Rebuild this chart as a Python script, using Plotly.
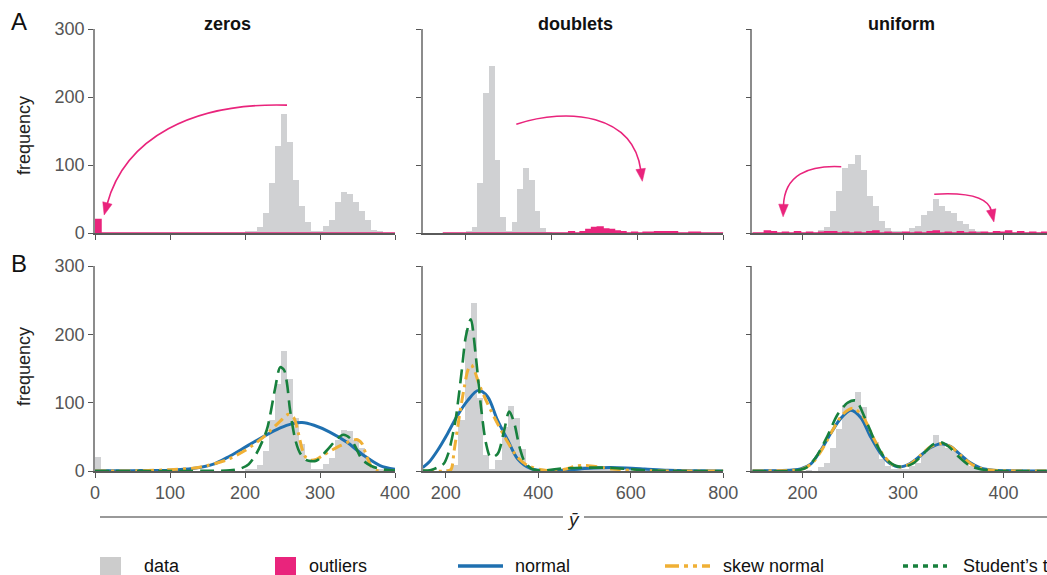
import math
import plotly.graph_objects as go

W, H = 1047, 575
FONT = "Liberation Sans, Arial, Helvetica, sans-serif"
GRAY = "#d0d1d3"
PINK = "#e9247c"
BLUE = "#1f70b0"
ORANGE = "#f0b035"
GREEN = "#17803d"
TICKC = "#555555"
FS = 18

# ---------------- data ----------------
panel_titles = ["zeros", "doublets", "uniform"]
legend_labels = ["data", "outliers", "normal", "skew normal", "Student\u2019s t"]

# zeros: 50 bins of width 8 starting at 0
zeros_bin_start, zeros_bin_width = 0.0, 8.0
zeros_data = [0, 0, 0, 0, 0, 0, 0, 0, 0, 0, 0, 0, 0, 0, 0, 0, 0, 0, 0, 0, 0, 0, 0, 0, 0,
              2, 2, 9, 29, 74, 128, 175, 134, 78, 40, 16, 3, 3, 10, 19, 46, 60, 58, 45, 33,
              19, 5, 2, 0, 0]
zeros_outliers = [20, 0, 0, 0, 0, 0, 0, 0, 0, 0, 0, 0, 0, 0, 0, 0, 0, 0, 0, 0, 0, 0, 0, 0, 0,
                  0, 0, 0, 0, 0, 0, 0, 0, 0, 0, 0, 0, 0, 0, 0, 0, 0, 0, 0, 0, 0, 0, 0, 0, 0]

# doublets: 49 bins of width 13.333 starting at 146.667
dbl_bin_start, dbl_bin_width = 146.667, 13.333
dbl_data = [0, 0, 0, 0, 3, 9, 74, 206, 246, 107, 24, 2, 16, 64, 95, 78, 32, 7, 1, 0,
            0, 0, 0, 0, 0, 0, 0, 0, 0, 0, 0, 0, 0, 0, 0, 0, 0, 0, 0, 0,
            0, 0, 0, 0, 0, 0, 0, 0, 0]
dbl_outliers = [0, 0, 0, 0, 0, 0, 0, 0, 0, 0, 0, 0, 0, 0, 0, 0, 0, 0, 0, 0,
                0, 0, 2, 0, 2, 5, 8, 9, 6, 5, 3, 2, 0, 1, 0, 1, 1, 2, 2, 2,
                2, 0, 0, 1, 1, 0, 0, 0, 0]

# uniform: 50 bins of width 6 starting at 150
uni_bin_start, uni_bin_width = 150.0, 6.0
uni_data = [0, 0, 0, 0, 0, 0, 0, 0, 0, 0, 0, 5, 9, 32, 62, 95, 102, 114, 93, 54,
            39, 17, 7, 3, 2, 1, 8, 10, 26, 32, 50, 40, 32, 30, 18, 13, 6, 3, 0, 0,
            0, 0, 0, 0, 0, 0, 0, 0, 0, 0]
uni_outliers = [0, 0, 3, 2, 0, 1, 0, 2, 0, 1, 0, 1, 2, 2, 0, 1, 0, 1, 0, 2,
                3, 0, 1, 0, 0, 1, 0, 1, 0, 2, 3, 0, 1, 0, 2, 0, 1, 0, 1, 0,
                2, 1, 3, 0, 2, 0, 1, 0, 1, 0]

# fitted densities
zeros_normal_x = [0, 50, 100, 130, 158, 180, 202, 224, 247, 262, 276, 292, 313, 336, 358, 380, 400]
zeros_normal_y = [0.3, 0.5, 1.2, 3.5, 10, 22, 36, 50, 63, 69, 71, 67, 57, 42, 23, 8, 2.5]
zeros_skew_x = [0, 60, 100, 130, 150, 175, 200, 225, 247, 258, 265, 271, 276, 281, 287, 295,
                304, 327, 349, 356, 362, 369, 376, 385, 400]
zeros_skew_y = [0, 0.3, 2, 4, 8, 16, 30, 50, 73, 83, 78, 56, 33, 20, 16, 17,
                23, 37, 46, 40, 22, 6, 1, 0, 0]
zeros_t_x = [0, 150, 180, 195, 205, 215, 229, 240, 247, 252, 256, 260, 267, 273, 282, 295,
             309, 322, 331, 340, 347, 356, 369, 385, 400]
zeros_t_y = [0, 0.2, 1, 4, 10, 25, 60, 120, 152, 148, 128, 90, 46, 27, 16, 15,
             30, 46, 53, 48, 36, 17, 7, 2, 0.5]

dbl_normal_x = [150, 165, 182, 204, 225, 247, 270, 290, 312, 334, 355, 384, 420, 450, 490,
                520, 555, 590, 630, 680, 740, 800]
dbl_normal_y = [5, 14, 30, 55, 81, 103, 118, 109, 74, 45, 18, 3.4, 0.5, 1, 3,
                4.5, 5, 4.5, 3, 1, 0.3, 0.1]
dbl_skew_x = [150, 200, 211, 218, 229, 240, 248, 255, 263, 272, 290, 312, 334, 355, 377, 406,
              434, 460, 480, 495, 505, 530, 560, 600, 650, 700, 800]
dbl_skew_y = [0, 0, 2, 30, 79, 123, 148, 155, 145, 127, 99, 69, 42, 20, 8, 2,
              0.3, 3, 7, 8, 8, 6, 3, 1, 0.3, 0, 0]
dbl_t_x = [150, 168, 185, 196, 205, 214, 222, 235, 243, 254, 265, 276, 287, 297, 312, 326,
           337, 348, 359, 370, 384, 406, 440, 480, 520, 560, 600, 650, 800]
dbl_t_y = [0.5, 1.5, 6, 11, 25, 50, 79, 150, 196, 222, 167, 94, 40, 20, 25, 59,
           87, 70, 36, 14, 4, 0.5, 3, 4.5, 5, 4.5, 2.5, 0.5, 0]

uni_normal_x = [150, 175, 190, 198, 208, 218, 228, 238, 248, 258, 267, 277, 287, 297, 307,
                317, 327, 338, 347, 357, 367, 377, 390, 410, 443]
uni_normal_y = [0.2, 0.5, 1.5, 3, 10, 30, 55, 77, 89, 78, 52, 27, 11, 6, 11,
                22, 34, 40, 36, 24, 12, 4.5, 1, 0.2, 0]
uni_skew_x = [150, 190, 200, 210, 220, 230, 240, 250, 260, 270, 280, 290, 298, 308, 318,
              328, 338, 348, 358, 368, 378, 390, 443]
uni_skew_y = [0, 1, 3, 12, 33, 60, 83, 92, 80, 50, 24, 9, 6, 11, 24,
              36, 40, 35, 22, 10, 3.5, 1, 0]
uni_t_x = [150, 195, 205, 215, 225, 235, 245, 253, 262, 272, 282, 292, 300, 310, 320,
           330, 338, 346, 356, 366, 376, 390, 443]
uni_t_y = [0, 1, 6, 24, 52, 83, 100, 103, 78, 44, 19, 8, 6, 11, 25,
           39, 42, 35, 20, 8, 3, 0.5, 0]

x_ticks = [[0, 100, 200, 300, 400], [200, 400, 600, 800], [200, 300, 400]]
y_ticks = [0, 100, 200, 300]

# ---------------- layout geometry ----------------
col_dom = [[95 / W, 395 / W], [422.7 / W, 723.3 / W], [752.3 / W, 1.0]]
row_dom = [[1 - 233 / H, 1 - 29 / H], [1 - 471 / H, 1 - 266 / H]]
x_ranges = [[[0, 400], [100, 800], [150, 443.2]],
            [[0, 400], [150, 800], [150, 443.2]]]
y_range = [0, 300]

panels = [
    (zeros_bin_start, zeros_bin_width, zeros_data, zeros_outliers,
     (zeros_normal_x, zeros_normal_y), (zeros_skew_x, zeros_skew_y), (zeros_t_x, zeros_t_y)),
    (dbl_bin_start, dbl_bin_width, dbl_data, dbl_outliers,
     (dbl_normal_x, dbl_normal_y), (dbl_skew_x, dbl_skew_y), (dbl_t_x, dbl_t_y)),
    (uni_bin_start, uni_bin_width, uni_data, uni_outliers,
     (uni_normal_x, uni_normal_y), (uni_skew_x, uni_skew_y), (uni_t_x, uni_t_y)),
]

fig = go.Figure()


def ax_names(row, col):
    i = row * 3 + col + 1
    s = "" if i == 1 else str(i)
    return "x" + s, "y" + s, "xaxis" + s, "yaxis" + s


for c, (b0, bw, data, outl, nrm, skw, stt) in enumerate(panels):
    n = len(data)
    centers = [b0 + bw * (i + 0.5) for i in range(n)]
    edges = [b0 + bw * i for i in range(n + 1)]
    # top row: data + outliers
    xa, ya, _, _ = ax_names(0, c)
    fig.add_trace(go.Bar(x=centers, y=data, width=bw, marker=dict(color=GRAY, line=dict(width=0)),
                         xaxis=xa, yaxis=ya, showlegend=False))
    fig.add_trace(go.Scatter(x=edges, y=list(outl) + [outl[-1]], mode="lines",
                             line=dict(shape="hv", color=PINK, width=1.5),
                             fill="tozeroy", fillcolor=PINK,
                             xaxis=xa, yaxis=ya, showlegend=False))
    # bottom row: all observations + fits
    xa, ya, _, _ = ax_names(1, c)
    total = [d + o for d, o in zip(data, outl)]
    fig.add_trace(go.Bar(x=centers, y=total, width=bw, marker=dict(color=GRAY, line=dict(width=0)),
                         xaxis=xa, yaxis=ya, showlegend=False))
    fig.add_trace(go.Scatter(x=nrm[0], y=nrm[1], mode="lines",
                             line=dict(color=BLUE, width=3, shape="spline", smoothing=0.9),
                             xaxis=xa, yaxis=ya, showlegend=False))
    fig.add_trace(go.Scatter(x=skw[0], y=skw[1], mode="lines",
                             line=dict(color=ORANGE, width=3, shape="spline", smoothing=0.8,
                                       dash="11px,5px,3px,5px"),
                             xaxis=xa, yaxis=ya, showlegend=False))
    fig.add_trace(go.Scatter(x=stt[0], y=stt[1], mode="lines",
                             line=dict(color=GREEN, width=2.6, shape="spline", smoothing=0.8,
                                       dash="14px,7px"),
                             xaxis=xa, yaxis=ya, showlegend=False))

layout_axes = {}
for r in range(2):
    for c in range(3):
        xa, ya, xk, yk = ax_names(r, c)
        layout_axes[xk] = dict(
            domain=col_dom[c], range=x_ranges[r][c], anchor=ya, automargin=False,
            tickvals=x_ticks[c], showticklabels=(r == 1),
            showline=True, linecolor="#5a5a5a", linewidth=1.5,
            ticks="outside", ticklen=5, tickwidth=1, tickcolor=TICKC,
            showgrid=False, zeroline=False,
            tickfont=dict(family=FONT, size=FS, color=TICKC),
        )
        layout_axes[yk] = dict(
            domain=row_dom[r], range=y_range, anchor=xa, automargin=False,
            tickvals=y_ticks, showticklabels=(c == 0),
            showline=True, linecolor="#8c8c8c", linewidth=1.5,
            ticks="outside", ticklen=5, tickwidth=1, tickcolor=TICKC,
            showgrid=False, zeroline=False,
            tickfont=dict(family=FONT, size=FS, color=TICKC),
        )

shapes = []
annotations = []

# curved pink arrows in the top row
arrows = [
    (0, (256, 188), (130, 192), (40, 140), (16, 42)),
    (1, (318, 160), (440, 185), (590, 175), (608, 92)),
    (2, (238.5, 97.5), (205, 100), (182, 85), (181, 40)),
    (2, (331, 57), (365, 60), (385, 52), (388, 32)),
]
for c, p0, c1, c2, p3 in arrows:
    xa, ya, _, _ = ax_names(0, c)
    xr = x_ranges[0][c]
    kx = (col_dom[c][1] - col_dom[c][0]) * W / (xr[1] - xr[0])
    ky = (row_dom[0][1] - row_dom[0][0]) * H / (y_range[1] - y_range[0])
    path = "M {},{} C {},{} {},{} {},{}".format(p0[0], p0[1], c1[0], c1[1], c2[0], c2[1], p3[0], p3[1])
    shapes.append(dict(type="path", xref=xa, yref=ya, path=path,
                       line=dict(color=PINK, width=1.6), layer="above"))
    dxp, dyp = (p3[0] - c2[0]) * kx, (p3[1] - c2[1]) * ky
    nn = math.hypot(dxp, dyp)
    ux, uy = dxp / nn, dyp / nn
    L, hw = 11, 4.8
    tip = (p3[0] + ux * L / kx, p3[1] + uy * L / ky)
    base = (p3[0] - ux * 1.5 / kx, p3[1] - uy * 1.5 / ky)
    b1 = (base[0] - uy * hw / kx, base[1] + ux * hw / ky)
    b2 = (base[0] + uy * hw / kx, base[1] - ux * hw / ky)
    shapes.append(dict(type="path", xref=xa, yref=ya,
                       path="M {},{} L {},{} L {},{} Z".format(tip[0], tip[1], b1[0], b1[1], b2[0], b2[1]),
                       fillcolor=PINK, line=dict(color=PINK, width=0.5), layer="above"))

# column titles
for cx, t in zip([227, 575, 901], panel_titles):
    annotations.append(dict(x=cx / W, y=1 - 24 / H, xref="paper", yref="paper", showarrow=False,
                            text="<b>" + t + "</b>", font=dict(family=FONT, size=FS, color="#111"),
                            xanchor="center", yanchor="middle"))
# panel letters
for yy, t in [(22, "A"), (263, "B")]:
    annotations.append(dict(x=19 / W, y=1 - yy / H, xref="paper", yref="paper", showarrow=False,
                            text=t, font=dict(family=FONT, size=24, color="#111"),
                            xanchor="center", yanchor="middle"))
# y titles
for yy in [136, 367]:
    annotations.append(dict(x=24 / W, y=1 - yy / H, xref="paper", yref="paper", showarrow=False,
                            text="frequency", textangle=-90,
                            font=dict(family=FONT, size=FS, color="#222"),
                            xanchor="center", yanchor="middle"))

# shared x title with rule
shapes.append(dict(type="line", xref="paper", yref="paper", x0=100 / W, x1=563 / W,
                   y0=1 - 517 / H, y1=1 - 517 / H, line=dict(color="#777", width=1.5)))
shapes.append(dict(type="line", xref="paper", yref="paper", x0=584 / W, x1=1.0,
                   y0=1 - 517 / H, y1=1 - 517 / H, line=dict(color="#777", width=1.5)))
annotations.append(dict(x=573 / W, y=1 - 519 / H, xref="paper", yref="paper", showarrow=False,
                        text="<i>\u0233</i>", font=dict(family=FONT, size=19, color="#222"),
                        xanchor="center", yanchor="middle"))

# custom legend
ly = 1 - 566 / H
shapes.append(dict(type="rect", xref="paper", yref="paper", x0=100 / W, x1=121 / W,
                   y0=1 - 575 / H, y1=1 - 557 / H, fillcolor="#cccccc", line=dict(width=0)))
shapes.append(dict(type="rect", xref="paper", yref="paper", x0=275 / W, x1=296 / W,
                   y0=1 - 575 / H, y1=1 - 557 / H, fillcolor=PINK, line=dict(width=0)))
shapes.append(dict(type="line", xref="paper", yref="paper", x0=458 / W, x1=503 / W,
                   y0=ly, y1=ly, line=dict(color=BLUE, width=3.5)))
shapes.append(dict(type="line", xref="paper", yref="paper", x0=665 / W, x1=710 / W,
                   y0=ly, y1=ly, line=dict(color=ORANGE, width=3.5, dash="14px,5px,4px,5px,4px,5px")))
shapes.append(dict(type="line", xref="paper", yref="paper", x0=903 / W, x1=947 / W,
                   y0=ly, y1=ly, line=dict(color=GREEN, width=3.5, dash="5px,5px")))
for lx, t in zip([142, 307, 513, 721, 961], legend_labels):
    annotations.append(dict(x=lx / W, y=ly, xref="paper", yref="paper", showarrow=False,
                            text=t, font=dict(family=FONT, size=FS, color="#111"),
                            xanchor="left", yanchor="middle"))

fig.update_layout(
    width=W, height=H, margin=dict(l=0, r=0, t=0, b=0, autoexpand=False),
    paper_bgcolor="white", plot_bgcolor="white",
    showlegend=False, barmode="overlay", bargap=0,
    shapes=shapes, annotations=annotations,
    font=dict(family=FONT),
    **layout_axes,
)

fig.write_html("out.html",
               config={"displayModeBar": False},
               post_script="document.body.style.margin='0px';document.body.style.overflow='hidden';")
